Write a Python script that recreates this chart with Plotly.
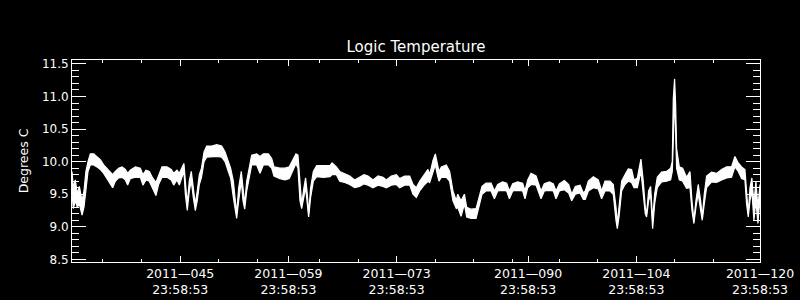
import datetime as dt
import plotly.graph_objects as go

# Day of year (fractional) and upper / lower envelope of the noisy temperature band
days = [32.0, 32.17, 32.43, 32.69, 32.95, 33.3, 33.55, 33.8, 34.07, 34.37, 34.8, 35.23, 35.66, 36.1, 36.5,
        36.96, 37.26, 37.6, 38.03, 38.47, 38.9, 39.2, 39.54, 40.2, 40.84, 41.18, 41.57, 42.0, 42.43, 42.86,
        43.2, 43.64, 44.28, 44.84, 45.15, 45.58, 45.88, 46.22, 46.48, 46.66, 46.91, 47.17, 47.43, 47.69, 47.95,
        48.2, 48.47, 48.75, 49.08, 49.42, 50.07, 50.72, 51.36, 51.8, 52.22, 52.52, 52.87, 53.13, 53.3, 53.56,
        53.9, 54.12, 54.34, 54.6, 54.94, 55.24, 55.89, 56.32, 56.75, 57.4, 57.83, 58.13, 58.9, 59.55, 60.11,
        60.54, 60.97, 61.23, 61.49, 61.71, 62.0, 62.22, 62.44, 62.61, 62.87, 63.22, 63.65, 64.5, 65.37, 65.64,
        66.2, 66.63, 67.28, 67.92, 68.57, 69.2, 69.78, 70.29, 70.94, 71.59, 72.23, 72.66, 73.31, 73.96, 74.39,
        75.03, 75.68, 76.11, 76.54, 76.97, 77.62, 78.05, 78.27, 78.7, 79.0, 79.26, 79.47, 79.78, 80.42, 80.85,
        81.28, 81.71, 81.9, 82.33, 82.76, 83.06, 83.62, 84.27, 84.61, 85.04, 85.56, 86.21, 86.64, 87.07, 87.71,
        88.23, 88.58, 89.01, 89.65, 90.3, 90.6, 90.95, 91.38, 92.03, 92.67, 93.1, 93.75, 94.27, 94.61, 95.04,
        95.69, 96.25, 96.64, 97.11, 97.72, 98.15, 98.4, 98.79, 99.44, 100.08, 100.51, 100.95, 101.59, 102.02,
        102.37, 102.54, 102.76, 103.1, 103.53, 103.96, 104.39, 104.7, 105.13, 105.6, 105.9, 106.16, 106.33,
        106.59, 106.85, 107.11, 107.37, 107.71, 108.27, 108.92, 109.44, 109.65, 109.78, 109.95, 110.08, 110.21,
        110.56, 110.99, 111.5, 111.94, 112.2, 112.45, 112.71, 113.01, 113.32, 113.53, 113.79, 114.09, 114.74,
        115.38, 116.03, 116.68, 117.32, 117.75, 118.19, 118.62, 119.05, 119.26, 119.48, 119.7, 119.95, 120.21,
        120.47, 120.73, 121.0]
temp_hi = [9.85, 9.6, 9.72, 9.5, 9.62, 9.4, 9.55, 9.85, 10.0, 10.12, 10.12, 10.08, 10.03, 9.95, 9.9,
           9.85, 9.8, 9.85, 9.9, 9.92, 9.88, 9.82, 9.87, 9.92, 9.9, 9.8, 9.87, 9.85, 9.75, 9.68,
           9.78, 9.92, 9.92, 9.88, 9.82, 9.87, 9.82, 9.9, 9.97, 9.7, 9.35, 9.7, 9.85, 9.6, 9.35,
           9.55, 9.8, 9.9, 10.15, 10.24, 10.24, 10.26, 10.24, 10.15, 10.0, 9.9, 9.7, 9.4, 9.2, 9.6,
           9.85, 9.6, 9.35, 9.7, 9.95, 10.1, 10.12, 10.08, 10.12, 10.12, 10.05, 9.92, 9.9, 9.9, 9.92,
           10.02, 10.12, 10.1, 9.6, 9.35, 9.6, 9.75, 9.5, 9.2, 9.6, 9.85, 9.94, 9.94, 9.94, 9.98,
           9.92, 9.85, 9.82, 9.78, 9.72, 9.76, 9.8, 9.78, 9.72, 9.78, 9.76, 9.72, 9.78, 9.8, 9.74,
           9.78, 9.78, 9.65, 9.6, 9.7, 9.82, 9.88, 9.8, 10.02, 10.12, 9.95, 9.85, 9.92, 9.95, 9.85,
           9.55, 9.4, 9.5, 9.4, 9.5, 9.3, 9.27, 9.28, 9.45, 9.62, 9.67, 9.67, 9.55, 9.65, 9.69,
           9.67, 9.55, 9.66, 9.69, 9.67, 9.55, 9.72, 9.82, 9.78, 9.55, 9.66, 9.69, 9.66, 9.55, 9.66,
           9.71, 9.65, 9.5, 9.62, 9.64, 9.52, 9.55, 9.7, 9.77, 9.72, 9.55, 9.7, 9.7, 9.65,
           9.3, 9.05, 9.3, 9.7, 9.8, 9.89, 9.88, 9.72, 9.75, 10.04, 9.7, 9.3, 9.2,
           9.55, 9.62, 9.1, 9.5, 9.76, 9.84, 9.85, 9.9, 10.0, 10.96, 11.27, 10.9, 10.2,
           9.92, 9.9, 9.76, 9.85, 9.4, 9.1, 9.4, 9.65, 9.4, 9.15, 9.5, 9.78, 9.84,
           9.82, 9.88, 9.92, 9.92, 10.08, 9.98, 9.92, 9.88, 9.5, 9.2, 9.6, 9.75, 9.35,
           9.7, 9.3, 9.65]
temp_lo = [9.5, 9.28, 9.4, 9.3, 9.35, 9.18, 9.3, 9.55, 9.85, 9.95, 9.95, 9.92, 9.88, 9.82, 9.75,
           9.65, 9.6, 9.7, 9.75, 9.76, 9.72, 9.64, 9.74, 9.76, 9.76, 9.64, 9.72, 9.7, 9.6, 9.48,
           9.65, 9.76, 9.76, 9.72, 9.64, 9.72, 9.64, 9.75, 9.85, 9.5, 9.25, 9.55, 9.7, 9.45, 9.25,
           9.4, 9.65, 9.76, 10.0, 10.07, 10.08, 10.08, 10.07, 10.0, 9.85, 9.75, 9.45, 9.2, 9.13, 9.4,
           9.7, 9.4, 9.27, 9.55, 9.8, 9.95, 9.95, 9.82, 9.95, 9.95, 9.9, 9.78, 9.74, 9.72, 9.74,
           9.85, 9.97, 9.9, 9.4, 9.28, 9.5, 9.6, 9.35, 9.15, 9.45, 9.7, 9.77, 9.76, 9.77, 9.8,
           9.8, 9.7, 9.68, 9.65, 9.6, 9.62, 9.66, 9.64, 9.6, 9.64, 9.62, 9.6, 9.64, 9.65, 9.6,
           9.64, 9.64, 9.5, 9.45, 9.55, 9.65, 9.7, 9.68, 9.85, 9.95, 9.8, 9.7, 9.76, 9.76, 9.7,
           9.4, 9.28, 9.3, 9.16, 9.35, 9.15, 9.13, 9.13, 9.3, 9.5, 9.55, 9.55, 9.43, 9.55, 9.56,
           9.55, 9.43, 9.55, 9.56, 9.55, 9.43, 9.6, 9.65, 9.64, 9.43, 9.55, 9.56, 9.55, 9.43, 9.55,
           9.57, 9.52, 9.4, 9.5, 9.52, 9.42, 9.42, 9.55, 9.6, 9.58, 9.43, 9.55, 9.55, 9.5,
           9.1, 8.97, 9.15, 9.55, 9.65, 9.7, 9.68, 9.6, 9.6, 9.85, 9.5, 9.2, 9.15,
           9.4, 9.5, 8.97, 9.35, 9.6, 9.69, 9.7, 9.72, 9.85, 10.3, 11.0, 10.5, 9.9,
           9.72, 9.7, 9.59, 9.6, 9.25, 9.05, 9.3, 9.5, 9.25, 9.1, 9.35, 9.6, 9.69,
           9.68, 9.72, 9.75, 9.76, 9.92, 9.85, 9.74, 9.72, 9.35, 9.15, 9.4, 9.55, 9.1,
           9.4, 9.05, 9.45]

major_doy = [45, 59, 73, 90, 104, 120]
minor_doy = [35, 40, 50, 55, 63, 68, 78, 83, 88, 94, 99, 109, 114]
y_ticks = [8.5, 9.0, 9.5, 10.0, 10.5, 11.0, 11.5]

base = dt.datetime(2011, 1, 1)


def frac_day(d):
    return base + dt.timedelta(days=d - 1)


def doy_stamp(n):
    return base + dt.timedelta(days=n - 1, hours=23, minutes=58, seconds=53)


xs = [frac_day(d) for d in days]
font = "DejaVu Sans"

fig = go.Figure()
fig.add_trace(go.Scatter(x=xs, y=temp_lo, mode="lines",
                         line=dict(color="white", width=1.2), showlegend=False))
fig.add_trace(go.Scatter(x=xs, y=temp_hi, mode="lines", fill="tonexty",
                         fillcolor="white", line=dict(color="white", width=1.2), showlegend=False))

fig.update_layout(
    width=800, height=300,
    paper_bgcolor="black", plot_bgcolor="black",
    margin=dict(l=72, r=40, t=60, b=38),
    font=dict(family=font, color="white", size=12),
    title=dict(text="Logic Temperature", x=0.52, xanchor="center", y=1 - 47 / 300,
               yanchor="middle", yref="container", font=dict(size=15, color="white", family=font)),
    xaxis=dict(
        type="date",
        automargin=False,
        range=[doy_stamp(31), doy_stamp(120)],
        showgrid=False, zeroline=False,
        showline=True, linecolor="white", linewidth=1, mirror="ticks",
        ticks="inside", ticklen=6, tickcolor="white", tickwidth=1,
        tickmode="array",
        tickvals=[doy_stamp(n) for n in major_doy],
        ticktext=["2011\u2014%03d<br>23:58:53" % n for n in major_doy],
        tickfont=dict(size=12.5, color="white", family=font),
        minor=dict(tickmode="array", tickvals=[doy_stamp(n) for n in minor_doy],
                   ticks="inside", ticklen=3, tickcolor="white", tickwidth=1, showgrid=False),
    ),
    yaxis=dict(
        automargin=False,
        range=[8.46, 11.56],
        showgrid=False, zeroline=False,
        showline=True, linecolor="white", linewidth=1, mirror="ticks",
        ticks="inside", ticklen=14, tickcolor="white", tickwidth=1,
        tickmode="array", tickvals=y_ticks, ticktext=["%.1f" % v for v in y_ticks],
        tickfont=dict(size=12, color="white", family=font),
        minor=dict(dtick=0.1, tick0=8.5, ticks="inside", ticklen=7, tickcolor="white",
                   tickwidth=1, showgrid=False),
        title=dict(text="Degrees C", font=dict(size=12.5, color="white", family=font), standoff=10),
    ),
)

fig.write_html("out.html")
